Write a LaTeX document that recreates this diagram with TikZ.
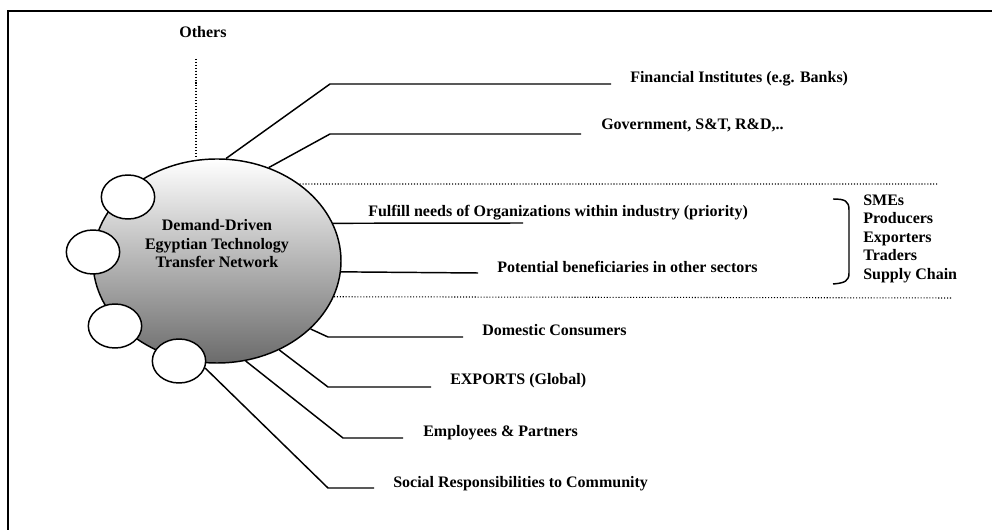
\documentclass[tikz,border=0pt]{standalone}
\usepackage{fontspec}
\setmainfont{Liberation Serif}
\usetikzlibrary{shapes.geometric}
\begin{document}
\begin{tikzpicture}[x=0.75pt,y=-0.75pt,
  conn/.style={line width=1.1pt},
  dotline/.style={line width=0.8pt,dash pattern=on 0.8pt off 1.4pt},
  lab/.style={font=\fontsize{12}{13.9}\selectfont\bfseries,inner sep=0pt},
  bubble/.style={ellipse,draw,line width=1.1pt,fill=white,minimum width=40pt,minimum height=33pt,inner sep=0pt}]
\useasboundingbox (0,0) rectangle (992,530);
% frame (cropped)
\draw[line width=1.4pt] (8,530) -- (8,11) -- (992,11);
% hub
\node[ellipse,draw,line width=1.1pt,top color=white,bottom color=black!58,
      minimum width=186pt,minimum height=153pt,inner sep=0pt] (hub) at (217,261) {};
\node[lab,align=center,anchor=north] (hubtext) at (217,219.5) {Demand-Driven\\Egyptian Technology\\Transfer Network};
% small bubbles
\node[bubble] (c1) at (128,197) {};
\node[bubble] (c2) at (93,252) {};
\node[bubble] (c3) at (115,326) {};
\node[bubble] (c4) at (179,361) {};
% labels
\node[lab,anchor=base] (oth) at (203,38) {Others};
\node[lab,anchor=base west] (fin) at (630,83) {Financial Institutes (e.g. Banks)};
\node[lab,anchor=base west] (gov) at (601,129.5) {Government, S\&T, R\&D,..};
\node[lab,anchor=base west] (ful) at (368,217) {Fulfill needs of Organizations within industry (priority)};
\node[lab,anchor=base west] (pot) at (497,273) {Potential beneficiaries in other sectors};
\node[lab,anchor=base west] (dom) at (482,336) {Domestic Consumers};
\node[lab,anchor=base west] (exp) at (450,385) {EXPORTS (Global)};
\node[lab,anchor=base west] (emp) at (423,437) {Employees \& Partners};
\node[lab,anchor=base west] (soc) at (393,488) {Social Responsibilities to Community};
\node[lab,align=left,anchor=north west] (list) at (863,194.5) {SMEs\\Producers\\Exporters\\Traders\\Supply Chain};
% coordinates
\coordinate (othb) at (196,59);
\coordinate (finb) at (330,84);  \coordinate (fine) at (611,84);
\coordinate (govb) at (330,134); \coordinate (gove) at (581,134);
\coordinate (fule) at (523,223);
\coordinate (pote) at (478,273);
\coordinate (dtop) at (937,184);
\coordinate (dbot) at (952,298);
\coordinate (domb) at (328,337); \coordinate (dome) at (463,337);
\coordinate (expb) at (328,387); \coordinate (expe) at (431,387);
\coordinate (empb) at (343,438); \coordinate (empe) at (403,438);
\coordinate (socb) at (328,488); \coordinate (soce) at (374,488);
% connectors
\draw[dotline] (othb) -- (othb |- hub.north);
\draw[conn] (hub.85) -- (finb) -- (fine);
\draw[conn] (hub.61.5) -- (govb) -- (gove);
\draw[dotline] (hub.43) -- (dtop);
\draw[conn] (hub.18) -- (fule);
\draw[conn] (hub.-5.6) -- (pote);
\draw[dotline] (hub.-17.7) -- (dbot);
\draw[conn] (hub.-36.8) -- (domb) -- (dome);
\draw[conn] (hub.-55.3) -- (expb) -- (expe);
\draw[conn] (hub.-74.2) -- (empb) -- (empe);
\draw[conn] (c4.-15) -- (socb) -- (soce);
% bracket
\draw[conn] (833,199) .. controls (845,199) and (849,201) .. (849,210) -- (849,273) .. controls (849,281) and (845,283) .. (833,284);
\end{tikzpicture}
\end{document}
